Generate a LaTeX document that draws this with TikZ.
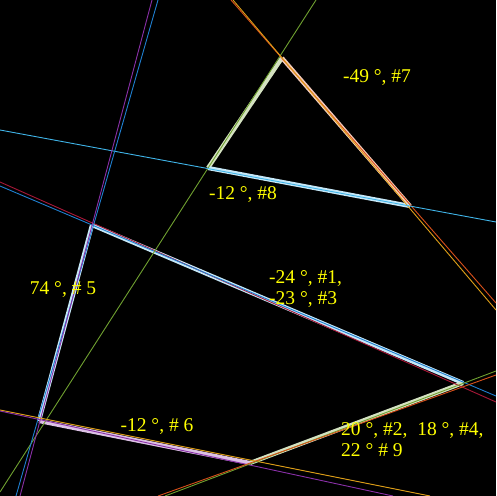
\documentclass[tikz,border=0pt]{standalone}
\usepackage{fontspec}
\setmainfont{Liberation Serif}
\usetikzlibrary{positioning}

\definecolor{lnred}{HTML}{A81838}
\definecolor{lnblue}{HTML}{1F7FD0}
\definecolor{lngreen}{HTML}{6FA030}
\definecolor{lnorange}{HTML}{D8501A}
\definecolor{lnamber}{HTML}{E0A018}
\definecolor{lncyan}{HTML}{40B4E8}
\definecolor{lnpurple}{HTML}{8A30A8}
\definecolor{lbyellow}{HTML}{FFFF00}

\begin{document}
\begin{tikzpicture}[x=1pt, y=-1pt,
  ln/.style={line width=0.9pt},
  seg/.style={line width=4.2pt, draw=#1!30!white},
  lbl/.style={text=lbyellow, font=\fontsize{19.5}{21}\selectfont, inner sep=0pt, align=left},
]
\fill[black] (0,0) rectangle (496,496);
\clip (0,0) rectangle (496,496);

% corners of the two shapes
\coordinate (A) at (92,225);
\coordinate (B) at (463,383);
\coordinate (C) at (250,463);
\coordinate (D) at (39,421);
\coordinate (E) at (282,58);
\coordinate (F) at (208,168);
\coordinate (G) at (410,206);

% thick segments
\draw[seg=lncyan]   (A) -- (B);
\draw[seg=lncyan]   (A) -- (D);
\draw[seg=lnpurple] (D) -- (C);
\draw[seg=lngreen]  (C) -- (B);
\draw[seg=lngreen]  (E) -- (F);
\draw[seg=lnorange] (E) -- (G);
\draw[seg=lncyan]   (F) -- (G);

% line ends on the border
\coordinate (r1) at (0,182);   \coordinate (r2) at (496,402);
\coordinate (b1) at (0,186);   \coordinate (b2) at (496,396);
\coordinate (g1) at (0,492);   \coordinate (g2) at (316,0);
\coordinate (o1) at (231,0);   \coordinate (o2) at (496,303);
\coordinate (a1) at (233,0);   \coordinate (a2) at (496,310);
\coordinate (c1) at (0,130);   \coordinate (c2) at (496,222);
\coordinate (v1) at (158,0);   \coordinate (v2) at (16,496);
\coordinate (p1) at (152,0);   \coordinate (p2) at (20,496);
\coordinate (h1) at (0,410);   \coordinate (h2) at (430,496);
\coordinate (q1) at (0,411);   \coordinate (q2) at (393,496);
\coordinate (k1) at (165,496); \coordinate (k2) at (496,371);
\coordinate (m1) at (158,496); \coordinate (m2) at (496,375);

\draw[ln, lnred]    (r1) -- (r2);
\draw[ln, lnblue]   (b1) -- (b2);
\draw[ln, lngreen]  (g1) -- (g2);
\draw[ln, lnorange] (o1) -- (o2);
\draw[ln, lnamber]  (a1) -- (a2);
\draw[ln, lncyan]   (c1) -- (c2);
\draw[ln, lnblue]   (v1) -- (v2);
\draw[ln, lnpurple] (p1) -- (p2);
\draw[ln, lnamber]  (h1) -- (h2);
\draw[ln, lnpurple] (q1) -- (q2);
\draw[ln, lngreen]  (k1) -- (k2);
\draw[ln, lnorange] (m1) -- (m2);

% angle labels
\node[lbl] (t7) at (377,78) {-49 °, \#7};
\node[lbl] (t8) at (243,195) {-12 °, \#8};
\node[lbl] (t5) at (63,290) {74 °, \# 5};
\node[lbl, anchor=west] (t13) at (269,289) {-24 °, \#1,\\-23 °, \#3};
\node[lbl] (t6) at (157,427) {-12 °, \# 6};
\node[lbl, anchor=west] (t249) at (341,440) {20 °, \#2,\ \ 18 °, \#4,\\22 ° \# 9};
\end{tikzpicture}
\end{document}
